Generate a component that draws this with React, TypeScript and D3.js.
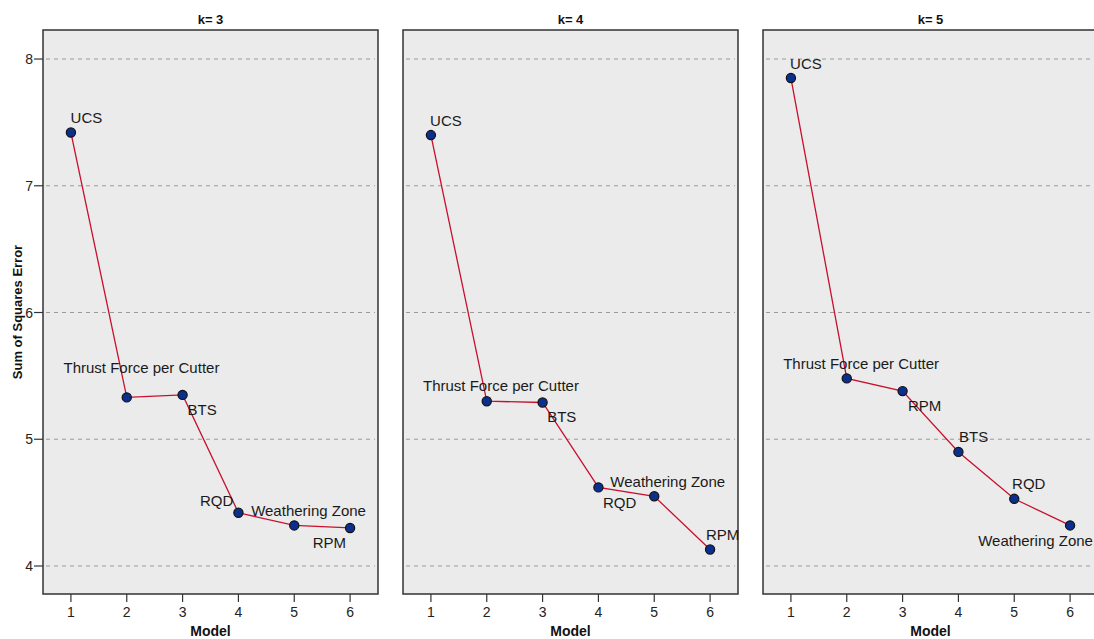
import React from "react";
import * as d3 from "d3";

const models = [1, 2, 3, 4, 5, 6];
const kValues = [3, 4, 5];
const yTicks = [4, 5, 6, 7, 8];

const sseK3 = [7.42, 5.33, 5.35, 4.42, 4.32, 4.3];
const sseK4 = [7.4, 5.3, 5.29, 4.62, 4.55, 4.13];
const sseK5 = [7.85, 5.48, 5.38, 4.9, 4.53, 4.32];

const labelsK3 = ["UCS", "Thrust Force per Cutter", "BTS", "RQD", "Weathering Zone", "RPM"];
const labelsK4 = ["UCS", "Thrust Force per Cutter", "BTS", "RQD", "Weathering Zone", "RPM"];
const labelsK5 = ["UCS", "Thrust Force per Cutter", "RPM", "BTS", "RQD", "Weathering Zone"];

// label placement (layout, not data): [dx, dy] of text centre/baseline from the point
const placeK3: [number, number][] = [[15.5, -10], [14.7, -24], [19.5, 20], [-21.7, -7], [14.3, -9], [-20.7, 20]];
const placeK4: [number, number][] = [[15, -9], [14.2, -10], [19.2, 20], [21.3, 21], [13.5, -9], [12.5, -10]];
const placeK5: [number, number][] = [[15, -9], [14.4, -9], [22, 20], [15.2, -10], [14.5, -10], [-34.5, 21]];

const seriesList = [sseK3, sseK4, sseK5];
const labelList = [labelsK3, labelsK4, labelsK5];
const placeList = [placeK3, placeK4, placeK5];

const W = 1094;
const H = 639;
const panelLefts = [43, 403, 763];
const panelW = 335;
const top = 30;
const bottom = 594;
const font = "'Liberation Sans', Arial, Helvetica, sans-serif";

export default function App() {
  const y = d3.scaleLinear().domain([3.779, 8.229]).range([bottom, top]);
  return (
    <svg
      width={W}
      height={H}
      style={{ position: "absolute", left: 0, top: 0, background: "#fff" }}
      fontFamily={font}
    >
      {kValues.map((k, pi) => {
        const left = panelLefts[pi];
        const x = d3.scaleLinear().domain([0.5, 6.5]).range([left, left + panelW]);
        const vals = seriesList[pi];
        const labs = labelList[pi];
        const pl = placeList[pi];
        const line = d3
          .line<number>()
          .x((_, i) => x(models[i]))
          .y((v) => y(v));
        return (
          <g key={k}>
            <text
              x={left + panelW / 2}
              y={24}
              textAnchor="middle"
              fontSize={13}
              fontWeight="bold"
              fill="#111"
            >
              {`k= ${k}`}
            </text>
            <rect x={left} y={top} width={panelW} height={bottom - top} fill="#ebebeb" stroke="none" />
            {yTicks.map((t) => (
              <line
                key={t}
                x1={left + 3}
                x2={left + panelW - 3}
                y1={y(t)}
                y2={y(t)}
                stroke="#9a9a9a"
                strokeWidth={1}
                strokeDasharray="4,4"
              />
            ))}
            <rect
              x={left}
              y={top}
              width={panelW}
              height={bottom - top}
              fill="none"
              stroke="#333"
              strokeWidth={1.5}
            />
            {models.map((m) => (
              <g key={m}>
                <line x1={x(m)} x2={x(m)} y1={bottom} y2={bottom + 8} stroke="#333" strokeWidth={1.2} />
                <text x={x(m)} y={bottom + 23} textAnchor="middle" fontSize={14} fill="#222">
                  {m}
                </text>
              </g>
            ))}
            <text
              x={left + panelW / 2}
              y={636}
              textAnchor="middle"
              fontSize={14}
              fontWeight="bold"
              fill="#111"
            >
              Model
            </text>
            {pi === 0 &&
              yTicks.map((t) => (
                <g key={t}>
                  <line x1={left - 9} x2={left} y1={y(t)} y2={y(t)} stroke="#333" strokeWidth={1.2} />
                  <text x={left - 10} y={y(t) + 5} textAnchor="end" fontSize={14} fill="#222">
                    {t}
                  </text>
                </g>
              ))}
            <path d={line(vals) || ""} fill="none" stroke="#c8102e" strokeWidth={1.3} />
            {vals.map((v, i) => (
              <circle key={i} cx={x(models[i])} cy={y(v)} r={4.6} fill="#0b2f8f" stroke="#111" strokeWidth={1.2} />
            ))}
            {vals.map((v, i) => (
              <text
                key={"l" + i}
                x={x(models[i]) + pl[i][0]}
                y={y(v) + pl[i][1]}
                textAnchor="middle"
                fontSize={15}
                fill="#1a1a1a"
              >
                {labs[i]}
              </text>
            ))}
          </g>
        );
      })}
      <text
        transform={`translate(22,${(top + bottom) / 2}) rotate(-90)`}
        textAnchor="middle"
        fontSize={13}
        fontWeight="bold"
        fill="#111"
      >
        Sum of Squares Error
      </text>
    </svg>
  );
}
